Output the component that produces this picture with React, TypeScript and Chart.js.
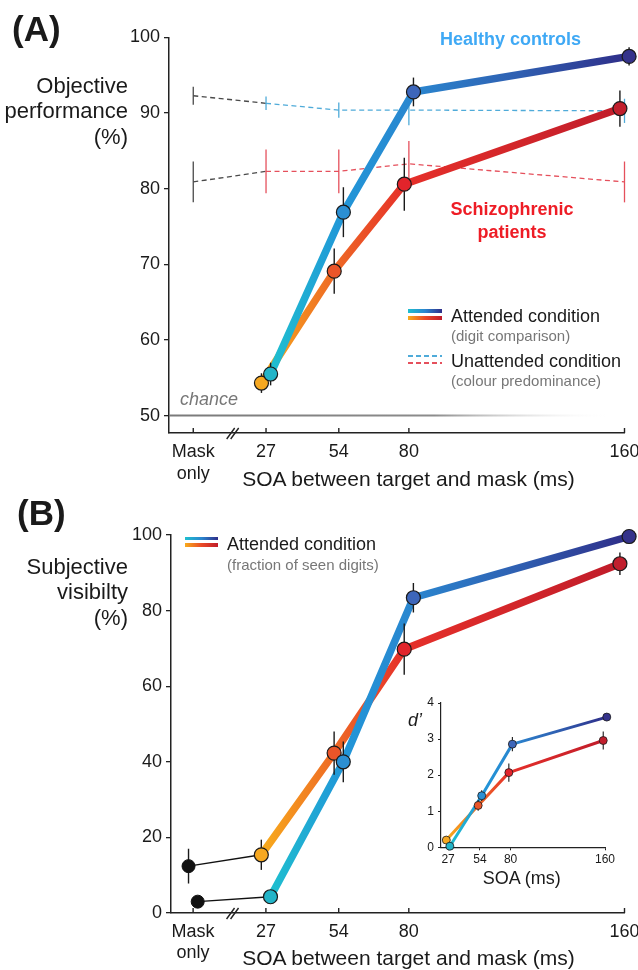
import React, { useEffect, useRef } from "react";
import { Chart, registerables } from "chart.js";
Chart.register(...registerables);

const FONT = '"Liberation Sans", Arial, Helvetica, sans-serif';
Chart.defaults.font.family = FONT;

// ---------- data ----------
const SOA_TICKS = [0, 27, 54, 80, 160];
const SOA_TICK_LABELS = [["Mask", "only"], ["27"], ["54"], ["80"], ["160"]];
const ATTENDED_SOA = [27, 54, 80, 160];
const UNATTENDED_SOA = [0, 27, 54, 80, 160];

// Panel A: objective performance (%)
const OBJ_Y_TICKS = [50, 60, 70, 80, 90, 100];
const healthyObjective = [55.5, 76.9, 92.8, 97.5];
const healthyObjectiveErr = [1.5, 3.3, 1.9, 1.2];
const patientObjective = [54.3, 69.1, 80.6, 90.6];
const patientObjectiveErr = [1.3, 3.0, 3.5, 2.4];
const healthyUnattended = [92.3, 91.3, 90.4, 90.4, 90.3];
const healthyUnattendedErr = [1.2, 0.9, 1.0, 2.0, 1.6];
const patientUnattended = [80.9, 82.3, 82.3, 83.3, 80.9];
const patientUnattendedErr = [2.7, 2.9, 2.9, 3.0, 2.7];
const CHANCE_LEVEL = 50;

// Panel B: subjective visibility (%)
const SUBJ_Y_TICKS = [0, 20, 40, 60, 80, 100];
const healthyVisibility = [4.3, 40.0, 83.4, 99.6];
const healthyVisibilityErr = [0.8, 5.4, 3.9, 1.0];
const patientVisibility = [15.4, 42.3, 69.8, 92.4];
const patientVisibilityErr = [4.0, 5.7, 6.8, 3.0];
const healthyMaskOnlyVisibility = 3.0;
const healthyMaskOnlyVisibilityErr = 1.3;
const patientMaskOnlyVisibility = 12.4;
const patientMaskOnlyVisibilityErr = 4.6;

// Inset: d'
const DPRIME_X_TICKS = [27, 54, 80, 160];
const DPRIME_Y_TICKS = [0, 1, 2, 3, 4];
const healthyDprime = [0.03, 1.43, 2.86, 3.61];
const healthyDprimeErr = [0.05, 0.15, 0.2, 0.05];
const patientDprime = [0.2, 1.16, 2.07, 2.96];
const patientDprimeErr = [0.05, 0.15, 0.25, 0.25];

// ---------- styles ----------
const HEALTHY_STOPS: [number, string][] = [[27, "#1fbfcf"], [54, "#2196d8"], [80, "#2a86cf"], [118, "#2f60b2"], [160, "#2f2d88"]];
const PATIENT_STOPS: [number, string][] = [[27, "#f8ac1c"], [54, "#ee6a25"], [80, "#e6302a"], [160, "#c01c2a"]];
const HEALTHY_POINT_COLORS = ["#22b4c8", "#2b8fd3", "#3d66ba", "#35338b"];
const PATIENT_POINT_COLORS = ["#f6a821", "#ea5529", "#e2242b", "#c11f2d"];
const HEALTHY_DASH = "#4fabd9";
const PATIENT_DASH = "#e5505c";
const GREY_DASH = "#4a4a4a";
const DX = 1.7;
const DX_INSET = 1.5;

function hGrad(chart: any, stops: [number, string][], dx: number) {
  const xs = chart.scales && chart.scales.x;
  if (!xs || !chart.chartArea) return stops[0][1];
  const x0 = xs.getPixelForValue(stops[0][0] + dx);
  const x1 = xs.getPixelForValue(stops[stops.length - 1][0] + dx);
  const g = chart.ctx.createLinearGradient(x0, 0, x1, 0);
  stops.forEach(([v, c]) => g.addColorStop(Math.min(1, Math.max(0, (xs.getPixelForValue(v + dx) - x0) / (x1 - x0))), c));
  return g;
}

function attended(xs: number[], ys: number[], errs: number[], dx: number, stops: [number, string][], colors: string[], o: any) {
  const pts = xs.map((x, i) => ({ x: x + dx, y: ys[i] }));
  return [
    { data: pts, borderColor: (c: any) => hGrad(c.chart, stops, dx), borderWidth: o.lw, pointRadius: 0, order: o.lineOrder, clip: false, borderCapStyle: "round", borderJoinStyle: "round", tension: 0 },
    { data: pts, showLine: false, pointRadius: 0, order: 5, clip: false, errs, errColor: "#1a1a1a", errWidth: o.ew },
    { data: pts, showLine: false, pointRadius: o.r, pointBackgroundColor: colors, pointBorderColor: "#1a1a1a", pointBorderWidth: o.bw, order: 1, clip: false },
  ];
}

function unattended(xs: number[], ys: number[], errs: number[], color: string) {
  const pts = xs.map((x, i) => ({ x, y: ys[i] }));
  return {
    data: pts, borderColor: color,
    segment: { borderColor: (s: any) => (s.p0DataIndex === 0 ? GREY_DASH : color) },
    borderDash: [5, 3.5], borderWidth: 1.3, pointRadius: 0, order: 20, clip: false,
    errs, errColor: xs.map((_, i) => (i === 0 ? GREY_DASH : color)), errWidth: 1.3,
  };
}

function maskOnly(x0: number, y0: number, e0: number, x1: number, y1: number) {
  return [
    { data: [{ x: x0, y: y0 }, { x: x1, y: y1 }], borderColor: "#111", borderWidth: 1.4, pointRadius: 0, order: 11, clip: false },
    { data: [{ x: x0, y: y0 }], showLine: false, pointRadius: 0, order: 5, clip: false, errs: [e0], errColor: "#1a1a1a", errWidth: 1.4 },
    { data: [{ x: x0, y: y0 }], showLine: false, pointRadius: 6.5, pointBackgroundColor: "#111", pointBorderColor: "#111", pointBorderWidth: 1, order: 1, clip: false },
  ];
}

const errorBarPlugin = {
  id: "errbars",
  afterDatasetDraw(chart: any, args: any) {
    const ds = chart.data.datasets[args.index];
    if (!ds.errs) return;
    const ys = chart.scales.y;
    const ctx = chart.ctx;
    ctx.save();
    ctx.lineWidth = ds.errWidth || 1.4;
    args.meta.data.forEach((el: any, i: number) => {
      const e = ds.errs[i];
      if (!e) return;
      const v = ds.data[i].y;
      ctx.strokeStyle = Array.isArray(ds.errColor) ? ds.errColor[i] : ds.errColor;
      ctx.beginPath();
      ctx.moveTo(el.x, ys.getPixelForValue(v + e));
      ctx.lineTo(el.x, ys.getPixelForValue(v - e));
      ctx.stroke();
    });
    ctx.restore();
  },
};

const chancePlugin = {
  id: "chance",
  beforeDatasetsDraw(chart: any, _a: any, opts: any) {
    if (!opts || opts.level == null) return;
    const { ctx, chartArea } = chart;
    const y = chart.scales.y.getPixelForValue(opts.level);
    const x0 = chartArea.left;
    const x1 = chart.scales.x.getPixelForValue(opts.fadeTo);
    const g = ctx.createLinearGradient(x0, 0, x1, 0);
    g.addColorStop(0, "#7a7a7a");
    g.addColorStop(0.6, "#8c8c8c");
    g.addColorStop(1, "rgba(255,255,255,0)");
    ctx.save();
    ctx.strokeStyle = g;
    ctx.lineWidth = 2;
    ctx.beginPath();
    ctx.moveTo(x0, y);
    ctx.lineTo(x1, y);
    ctx.stroke();
    ctx.restore();
  },
};

const soaAxisPlugin = {
  id: "soaAxis",
  afterDraw(chart: any, _a: any, opts: any) {
    if (!opts || opts.labelOffset == null) return;
    const x = chart.scales.x;
    const ctx = chart.ctx;
    const bottom = chart.chartArea.bottom;
    ctx.save();
    ctx.strokeStyle = "#222";
    ctx.lineWidth = 1.4;
    ctx.fillStyle = "#1a1a1a";
    ctx.font = `18px ${FONT}`;
    ctx.textAlign = "center";
    ctx.textBaseline = "alphabetic";
    SOA_TICKS.forEach((v, i) => {
      const px = x.getPixelForValue(v);
      ctx.beginPath();
      ctx.moveTo(px, bottom);
      ctx.lineTo(px, bottom - 5);
      ctx.stroke();
      SOA_TICK_LABELS[i].forEach((t, j) => ctx.fillText(t, px, bottom + opts.labelOffset + j * opts.lineGap));
    });
    const bx = x.getPixelForValue(opts.breakAt);
    ctx.beginPath();
    ctx.moveTo(bx - 7, bottom + 6);
    ctx.lineTo(bx + 1, bottom - 5);
    ctx.moveTo(bx - 3, bottom + 6);
    ctx.lineTo(bx + 5, bottom - 5);
    ctx.stroke();
    ctx.restore();
  },
};

function yScale(min: number, max: number, ticks: number[], width: number, fontSize: number, tickLen: number, pad: number) {
  return {
    type: "linear", min, max,
    afterBuildTicks: (s: any) => { s.ticks = ticks.map((v) => ({ value: v })); },
    afterFit: (s: any) => { s.width = width; },
    ticks: { font: { family: FONT, size: fontSize }, color: "#1a1a1a", padding: pad },
    grid: { display: true, drawOnChartArea: false, drawTicks: true, tickLength: tickLen, color: "#222", lineWidth: 1.3 },
    border: { display: true, color: "#222", width: 1.5 },
  };
}

function mainX(min: number) {
  return {
    type: "linear", min, max: 160,
    afterFit: (s: any) => { s.height = 57; },
    ticks: { display: false },
    grid: { display: false },
    border: { display: true, color: "#222", width: 1.5 },
  };
}

const BIG = { lw: 7.5, ew: 1.4, r: 7, bw: 1.2 };

function configA(): any {
  return {
    type: "line",
    data: {
      datasets: [
        ...attended(ATTENDED_SOA, healthyObjective, healthyObjectiveErr, DX, HEALTHY_STOPS, HEALTHY_POINT_COLORS, { ...BIG, lineOrder: 9 }),
        ...attended(ATTENDED_SOA, patientObjective, patientObjectiveErr, -DX, PATIENT_STOPS, PATIENT_POINT_COLORS, { ...BIG, lineOrder: 10 }),
        unattended(UNATTENDED_SOA, healthyUnattended, healthyUnattendedErr, HEALTHY_DASH),
        unattended(UNATTENDED_SOA, patientUnattended, patientUnattendedErr, PATIENT_DASH),
      ],
    },
    options: {
      responsive: false, animation: false, events: [],
      layout: { padding: { top: 37.5, right: 13.5, left: 0, bottom: 0 } },
      plugins: { legend: { display: false }, tooltip: { enabled: false }, chance: { level: CHANCE_LEVEL, fadeTo: 155 }, soaAxis: { labelOffset: 23.5, lineGap: 22, breakAt: 15 } },
      scales: { x: mainX(-9), y: yScale(47.7, 100, OBJ_Y_TICKS, 169, 18, 5, 4) },
    },
    plugins: [errorBarPlugin, chancePlugin, soaAxisPlugin],
  };
}

function configB(): any {
  return {
    type: "line",
    data: {
      datasets: [
        ...attended(ATTENDED_SOA, healthyVisibility, healthyVisibilityErr, DX, HEALTHY_STOPS, HEALTHY_POINT_COLORS, { ...BIG, lineOrder: 9 }),
        ...attended(ATTENDED_SOA, patientVisibility, patientVisibilityErr, -DX, PATIENT_STOPS, PATIENT_POINT_COLORS, { ...BIG, lineOrder: 10 }),
        ...maskOnly(DX, healthyMaskOnlyVisibility, healthyMaskOnlyVisibilityErr, ATTENDED_SOA[0] + DX, healthyVisibility[0]),
        ...maskOnly(-DX, patientMaskOnlyVisibility, patientMaskOnlyVisibilityErr, ATTENDED_SOA[0] - DX, patientVisibility[0]),
      ],
    },
    options: {
      responsive: false, animation: false, events: [],
      layout: { padding: { top: 45, right: 13.5, left: 0, bottom: 0 } },
      plugins: { legend: { display: false }, tooltip: { enabled: false }, soaAxis: { labelOffset: 23.5, lineGap: 21, breakAt: 15 } },
      scales: { x: mainX(-8.2), y: yScale(0, 100, SUBJ_Y_TICKS, 171, 18, 5, 4) },
    },
    plugins: [errorBarPlugin, soaAxisPlugin],
  };
}

function configInset(): any {
  const SMALL = { lw: 3, ew: 1.1, r: 4, bw: 0.8 };
  return {
    type: "line",
    data: {
      datasets: [
        ...attended(ATTENDED_SOA, healthyDprime, healthyDprimeErr, DX_INSET, HEALTHY_STOPS, HEALTHY_POINT_COLORS, { ...SMALL, lineOrder: 9 }),
        ...attended(ATTENDED_SOA, patientDprime, patientDprimeErr, -DX_INSET, PATIENT_STOPS, PATIENT_POINT_COLORS, { ...SMALL, lineOrder: 10 }),
      ],
    },
    options: {
      responsive: false, animation: false, events: [],
      layout: { padding: { top: 13, right: 33, left: 0, bottom: 0 } },
      plugins: { legend: { display: false }, tooltip: { enabled: false } },
      scales: {
        x: {
          type: "linear", min: 21, max: 160,
          afterBuildTicks: (s: any) => { s.ticks = DPRIME_X_TICKS.map((v) => ({ value: v })); },
          afterFit: (s: any) => { s.height = 52.7; },
          ticks: { font: { family: FONT, size: 12 }, color: "#1a1a1a", padding: 2, maxRotation: 0, autoSkip: false },
          grid: { display: true, drawOnChartArea: false, drawTicks: true, tickLength: 3, color: "#222", lineWidth: 1 },
          border: { display: true, color: "#222", width: 1.2 },
        },
        y: { ...yScale(0, 4, DPRIME_Y_TICKS, 41, 12, 3, 4), border: { display: true, color: "#222", width: 1.2 }, grid: { display: true, drawOnChartArea: false, drawTicks: true, tickLength: 3, color: "#222", lineWidth: 1 } },
      },
    },
    plugins: [errorBarPlugin],
  };
}

function Txt(p: any) {
  const size = p.size ?? 18;
  const style: any = {
    position: "absolute", top: p.top, fontSize: size, lineHeight: (p.lh ?? size) + "px",
    fontWeight: p.weight ?? "normal", fontStyle: p.italic ? "italic" : "normal",
    color: p.color ?? "#1a1a1a", whiteSpace: "nowrap", fontFamily: FONT,
  };
  if (p.center != null) { style.left = p.center - 200; style.width = 400; style.textAlign = "center"; }
  else if (p.right != null) { style.right = 638 - p.right; style.textAlign = "right"; }
  else style.left = p.left;
  return <div style={style}>{p.children}</div>;
}

function Bar(p: any) {
  return <div style={{ position: "absolute", left: p.left, top: p.top, width: p.width, height: p.height, background: p.bg }} />;
}

const GRAD_H = "linear-gradient(to right, #1fbfcf, #2a86cf 50%, #2f2d88)";
const GRAD_P = "linear-gradient(to right, #f8ac1c, #ea4a27 50%, #c01c2a)";
const dash = (c: string) => `repeating-linear-gradient(to right, ${c} 0px, ${c} 5px, transparent 5px, transparent 8px)`;

export default function App() {
  const aRef = useRef<HTMLCanvasElement>(null);
  const bRef = useRef<HTMLCanvasElement>(null);
  const iRef = useRef<HTMLCanvasElement>(null);
  useEffect(() => {
    const charts = [
      new Chart(aRef.current as HTMLCanvasElement, configA()),
      new Chart(bRef.current as HTMLCanvasElement, configB()),
      new Chart(iRef.current as HTMLCanvasElement, configInset()),
    ];
    return () => charts.forEach((c) => c.destroy());
  }, []);
  return (
    <div style={{ position: "absolute", left: 0, top: 0, width: 638, height: 970, background: "#fff", overflow: "hidden" }}>
      <canvas ref={aRef} width={638} height={490} style={{ position: "absolute", left: 0, top: 0 }} />
      <canvas ref={bRef} width={638} height={480} style={{ position: "absolute", left: 0, top: 490 }} />
      <canvas ref={iRef} width={238} height={210} style={{ position: "absolute", left: 400, top: 690 }} />

      {/* Panel A texts */}
      <Txt left={12} top={11.2} size={35} weight="bold">(A)</Txt>
      <Txt right={128} top={72.6} size={22} lh={25.5}>Objective<br />performance<br />(%)</Txt>
      <Txt left={440} top={30.2} size={18} weight="bold" color="#3fa9f5">Healthy controls</Txt>
      <Txt center={512} top={197.7} size={18} lh={23} weight="bold" color="#ee1c25">Schizophrenic<br />patients</Txt>
      <Bar left={408} top={309} width={34} height={4} bg={GRAD_H} />
      <Bar left={408} top={316} width={34} height={4} bg={GRAD_P} />
      <Txt left={451} top={307} size={18}>Attended condition</Txt>
      <Txt left={451} top={327.6} size={15} color="#777">(digit comparison)</Txt>
      <Bar left={408} top={354.5} width={34} height={2} bg={dash(HEALTHY_DASH)} />
      <Bar left={408} top={361.5} width={34} height={2} bg={dash(PATIENT_DASH)} />
      <Txt left={451} top={352} size={18}>Unattended condition</Txt>
      <Txt left={451} top={372.6} size={15} color="#777">(colour predominance)</Txt>
      <Txt left={180} top={389.8} size={18} italic color="#777">chance</Txt>
      <Txt center={408.5} top={468} size={21} lh={21}>SOA between target and mask (ms)</Txt>

      {/* Panel B texts */}
      <Txt left={17} top={494.6} size={35} weight="bold">(B)</Txt>
      <Txt right={128} top={553.6} size={22} lh={25.5}>Subjective<br />visibilty<br />(%)</Txt>
      <Bar left={185} top={536.5} width={33} height={3.5} bg={GRAD_H} />
      <Bar left={185} top={543.3} width={33} height={3.5} bg={GRAD_P} />
      <Txt left={227} top={535.2} size={18}>Attended condition</Txt>
      <Txt left={227} top={556.6} size={15} color="#777">(fraction of seen digits)</Txt>
      <Txt center={408.5} top={947} size={21} lh={21}>SOA between target and mask (ms)</Txt>

      {/* Inset texts */}
      <Txt left={408} top={710.8} size={18} italic>d’</Txt>
      <Txt center={521.8} top={869.3} size={18}>SOA (ms)</Txt>
    </div>
  );
}
